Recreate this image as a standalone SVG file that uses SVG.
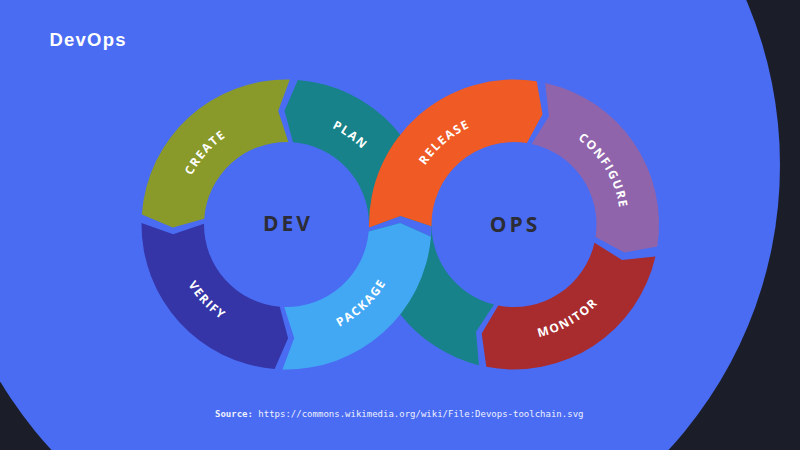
<svg xmlns="http://www.w3.org/2000/svg" width="800" height="450" viewBox="0 0 800 450">
<style>
.lbl{font-family:"Open Sans","DejaVu Sans",sans-serif;font-weight:700;font-size:12px;fill:#FFFFFF;letter-spacing:1.5px}
.hub{font-family:"Open Sans","DejaVu Sans",sans-serif;font-weight:700;font-size:21px;fill:#2C2C36;letter-spacing:3px;text-anchor:middle}
.title{font-family:"Liberation Sans",Arial,sans-serif;font-weight:700;font-size:18.5px;fill:#FFFFFF;letter-spacing:1.2px}
.src{font-family:"DejaVu Sans Mono","Liberation Mono",monospace;font-size:9px;fill:#EEF1FF}
</style>
<defs>
<path id="tp-create" d="M179.84,221.71 A106.7,106.7 0 0 1 270.73,118.97"/>
<path id="tp-plan" d="M278.13,118.13 A106.7,106.7 0 0 1 389.80,197.78"/>
<path id="tp-verify" d="M171.44,231.94 A115.3,115.3 0 0 0 273.85,339.10"/>
<path id="tp-package" d="M293.74,339.57 A115.3,115.3 0 0 0 401.08,237.35"/>
<path id="tp-release" d="M408.86,206.34 A106.7,106.7 0 0 1 513.63,117.80"/>
<path id="tp-configure" d="M548.91,123.67 A106.7,106.7 0 0 1 619.36,241.38"/>
<path id="tp-monitor" d="M493.38,337.94 A115.3,115.3 0 0 0 622.14,264.50"/>
</defs>
<g id="background">
<rect x="0" y="0" width="800" height="450" fill="#1B1E29"/>
<circle cx="360" cy="165" r="420" fill="#4A6CF2"/>
</g>
<text class="title" x="49.5" y="46">DevOps</text>
<g id="plan">
<path fill="#178289" d="M478.92,365.19 A145,145 0 0 1 369,224.5 A82.5,82.5 0 0 0 292.97,142.25 L284.51,110.77 L297.88,79.95 A145,145 0 0 1 431.5,224.5 A82.5,82.5 0 0 0 494.04,304.55 L476.03,331.73 Z"/>
<text class="lbl"><textPath href="#tp-plan" startOffset="50%" text-anchor="middle">PLAN</textPath></text>
</g>
<g id="crossing-gap">
<path fill="#4A6CF2" d="M368.71,231.40 L400.24,223.11 L430.99,236.63 L431.52,226.23 L400.57,215.97 L369.03,227.54 Z"/>
</g>
<g id="create">
<path fill="#8A9A2A" d="M289.79,79.54 A145,145 0 0 0 141.85,214.38 L172.79,227.48 L204.20,218.74 A82.5,82.5 0 0 1 288.37,142.02 L278.17,111.06 Z"/>
<text class="lbl"><textPath href="#tp-create" startOffset="50%" text-anchor="middle">CREATE</textPath></text>
</g>
<g id="verify">
<path fill="#3535A7" d="M141.51,222.98 A145,145 0 0 0 274.62,369.01 L288.09,338.24 L279.74,306.72 A82.5,82.5 0 0 1 204.00,223.64 L173.17,234.22 Z"/>
<text class="lbl"><textPath href="#tp-verify" startOffset="50%" text-anchor="middle">VERIFY</textPath></text>
</g>
<g id="package">
<path fill="#42A8F4" d="M282.45,369.44 A145,145 0 0 0 430.99,236.63 L400.24,223.11 L368.71,231.40 A82.5,82.5 0 0 1 284.20,306.97 L294.24,337.99 Z"/>
<text class="lbl"><textPath href="#tp-package" startOffset="50%" text-anchor="middle">PACKAGE</textPath></text>
</g>
<g id="release">
<path fill="#F05A24" d="M369.03,227.54 A145,145 0 0 1 536.68,81.28 L542.48,114.37 L526.91,143.02 A82.5,82.5 0 0 0 431.52,226.23 L400.57,215.97 Z"/>
<text class="lbl"><textPath href="#tp-release" startOffset="50%" text-anchor="middle">RELEASE</textPath></text>
</g>
<g id="configure">
<path fill="#9064AB" d="M545.14,82.88 A145,145 0 0 1 657.33,246.43 L624.27,252.40 L595.55,236.98 A82.5,82.5 0 0 0 531.72,143.92 L548.96,116.26 Z"/>
<text class="lbl"><textPath href="#tp-configure" startOffset="50%" text-anchor="middle">CONFIGURE</textPath></text>
</g>
<g id="monitor">
<path fill="#A82B2E" d="M655.45,256.38 A145,145 0 0 1 486.33,366.84 L481.69,333.56 L498.26,305.48 A82.5,82.5 0 0 0 594.48,242.64 L622.06,260.03 Z"/>
<text class="lbl"><textPath href="#tp-monitor" startOffset="50%" text-anchor="middle">MONITOR</textPath></text>
</g>
<g id="dev-hub">
<text class="hub" x="288" y="231">DEV</text>
</g>
<g id="ops-hub">
<text class="hub" x="515" y="231.5">OPS</text>
</g>
<g id="connectors"></g>
<text class="src" x="215" y="416.5"><tspan font-weight="700">Source:</tspan> https://commons.wikimedia.org/wiki/File:Devops-toolchain.svg</text>
</svg>
